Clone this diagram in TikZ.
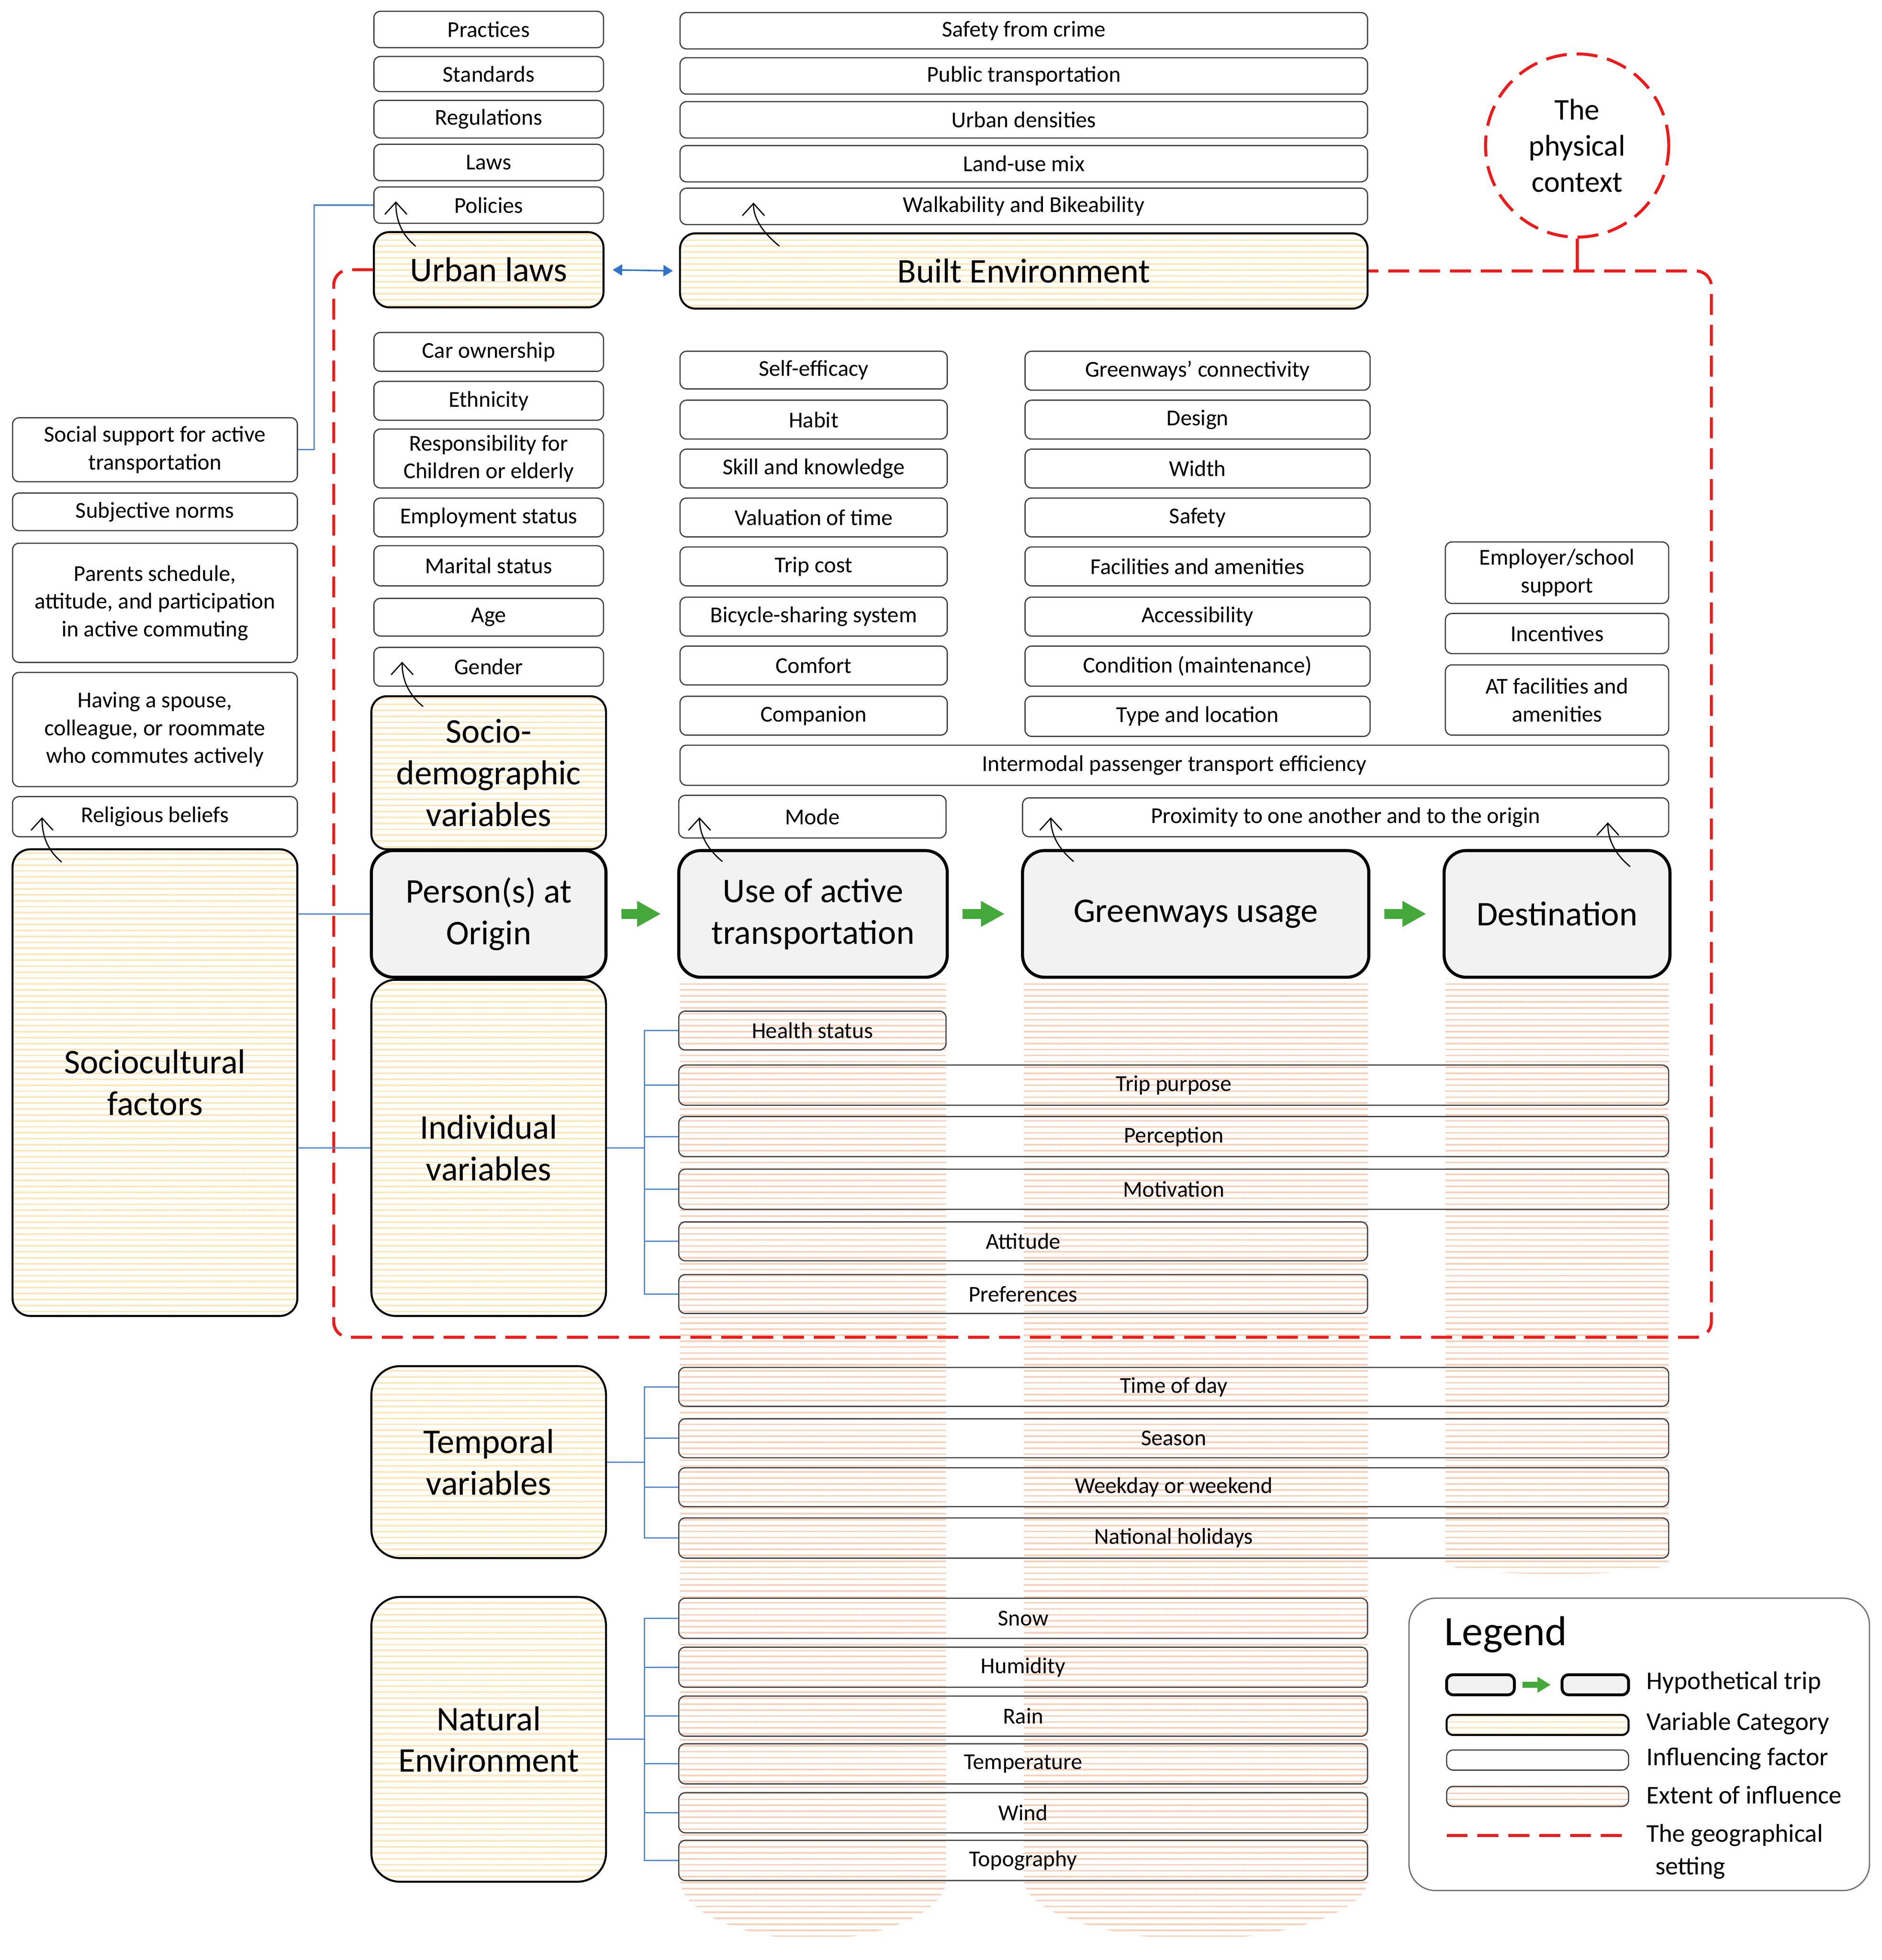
\documentclass[tikz,border=0pt]{standalone}
\usepackage{fontspec}
\setmainfont{Carlito}
\usetikzlibrary{arrows.meta,calc,patterns.meta}
\definecolor{tripgray}{HTML}{F2F2F2}
\definecolor{factorgray}{HTML}{404040}
\definecolor{catyellow}{HTML}{FDE7B8}
\definecolor{extorange}{HTML}{F9CFB9}
\definecolor{framered}{HTML}{EE1A1A}
\definecolor{linkblue}{HTML}{5088D2}
\definecolor{arrowblue}{HTML}{2F74C8}
\definecolor{tripgreen}{HTML}{44A83A}
\newcommand\smallfs{\fontsize{10.3}{12.6}\selectfont}
\newcommand\bigfs{\fontsize{15.7}{18.9}\selectfont}
\newcommand\ctxfs{\fontsize{13.6}{16.4}\selectfont}
\newcommand\legfs{\fontsize{11.6}{14.8}\selectfont}
\newcommand\legtitlefs{\fontsize{19}{22}\selectfont}
% node (name) with style, spanning corners (x1,y1)-(x2,y2)
\newcommand\boxnode[7]{\node[#2, minimum width={(#5-#3)*0.02cm}, minimum height={(#6-#4)*0.02cm}]
  (#1) at ({(#3+#5)/2},{(#4+#6)/2}) {#7};}
\tikzset{
  factor/.style={draw=factorgray, line width=0.55pt, rounded corners=3pt, inner sep=0pt, align=center, font=\smallfs},
  category/.style={draw=black, line width=0.9pt, rounded corners=7pt, inner sep=0pt, align=center, font=\bigfs,
    preaction={fill=white}, pattern={Lines[angle=0,distance=2.7pt,line width=0.75pt]}, pattern color=catyellow},
  trip/.style={draw=black, line width=1.4pt, fill=tripgray, rounded corners=10pt, inner sep=0pt, align=center, font=\bigfs},
  extent/.style={pattern={Lines[angle=0,distance=2.7pt,line width=0.7pt]}, pattern color=extorange},
  setting/.style={draw=framered, line width=1.35pt, dash pattern=on 9.5pt off 4.5pt},
  branch/.style={draw=linkblue, line width=0.6pt},
  infl/.style={draw=black, line width=0.55pt, -{Straight Barb[length=5.5pt,width=10pt]}},
  triparrow/.style={draw=tripgreen, line width=4.4pt, -{Triangle[length=10.8pt,width=11pt]}, shorten <=6.3pt, shorten >=7.4pt},
  linkarrow/.style={draw=arrowblue, line width=0.7pt, {Triangle[length=4.3pt,width=5.1pt]}-{Triangle[length=4.3pt,width=5.1pt]}, shorten <=3.8pt, shorten >=2.8pt},
  legtext/.style={anchor=west, inner sep=0pt, font=\legfs, align=left}
}
\begin{document}
\begin{tikzpicture}[x=0.02cm,y=-0.02cm]
  \useasboundingbox (0,0) rectangle (1500,1562.4);

  % extent of influence
  \path[extent] (542,780) -- (754,780) -- (754,1498) .. controls (754,1525) and (700,1546) .. (648,1546)
    .. controls (596,1546) and (542,1525) .. (542,1498) -- cycle;
  \path[extent] (816,780) -- (1090,780) -- (1090,1498) .. controls (1090,1525) and (1020,1546) .. (953,1546)
    .. controls (886,1546) and (816,1525) .. (816,1498) -- cycle;
  \path[extent] (1152,780) -- (1330,780) -- (1330,1245) .. controls (1330,1258) and (1152,1258) .. (1152,1245) -- cycle;

  % urban laws
  \boxnode{practices}{factor}{298}{9}{481}{38}{Practices}
  \boxnode{standards}{factor}{298}{45}{481}{73}{Standards}
  \boxnode{regulations}{factor}{298}{80}{481}{110}{Regulations}
  \boxnode{laws}{factor}{298}{115}{481}{144}{Laws}
  \boxnode{policies}{factor}{298}{149}{481}{178}{Policies}
  \boxnode{urban}{category}{298}{185}{481}{245}{Urban laws}

  % built environment
  \boxnode{crime}{factor}{542}{10}{1090}{39}{Safety from crime}
  \boxnode{transit}{factor}{542}{46}{1090}{75}{Public transportation}
  \boxnode{density}{factor}{542}{81}{1090}{110}{Urban densities}
  \boxnode{landuse}{factor}{542}{116}{1090}{145}{Land-use mix}
  \boxnode{walk}{factor}{542}{150}{1090}{179}{Walkability and Bikeability}
  \boxnode{built}{category}{542}{186}{1090}{246}{Built Environment}

  \node[setting, circle, inner sep=0pt, align=center, font=\ctxfs, minimum size={146*0.02cm}] (ctx) at (1257,116) {The\\physical\\context};

  % sociocultural
  \boxnode{social}{factor}{10}{333}{237}{384}{Social support for active\\transportation}
  \boxnode{norms}{factor}{10}{393}{237}{423}{Subjective norms}
  \boxnode{parents}{factor}{10}{433}{237}{528}{Parents schedule,\\attitude, and participation\\in active commuting}
  \boxnode{spouse}{factor}{10}{536}{237}{627}{Having a spouse,\\colleague, or roommate\\who commutes actively}
  \boxnode{religion}{factor}{10}{635}{237}{667}{Religious beliefs}
  \boxnode{socio}{category, rounded corners=8pt}{10}{677}{237}{1049}{Sociocultural\\factors}

  % socio-demographic
  \boxnode{car}{factor}{298}{265}{481}{296}{Car ownership}
  \boxnode{ethnic}{factor}{298}{304}{481}{335}{Ethnicity}
  \boxnode{care}{factor}{298}{342}{481}{389}{Responsibility for\\Children or elderly}
  \boxnode{employ}{factor}{298}{397}{481}{428}{Employment status}
  \boxnode{marital}{factor}{298}{435}{481}{467}{Marital status}
  \boxnode{age}{factor}{298}{477}{481}{507}{Age}
  \boxnode{gender}{factor}{298}{516}{481}{547}{Gender}
  \boxnode{demo}{category}{296}{555}{483}{677}{Socio-\\demographic\\variables}

  % use of active transportation
  \boxnode{efficacy}{factor}{542}{280}{755}{310}{Self-efficacy}
  \boxnode{habit}{factor}{542}{319}{755}{350}{Habit}
  \boxnode{skill}{factor}{542}{358}{755}{389}{Skill and knowledge}
  \boxnode{valtime}{factor}{542}{397}{755}{428}{Valuation of time}
  \boxnode{cost}{factor}{542}{436}{755}{467}{Trip cost}
  \boxnode{bikeshare}{factor}{542}{476}{755}{507}{Bicycle-sharing system}
  \boxnode{comfort}{factor}{542}{515}{755}{546}{Comfort}
  \boxnode{companion}{factor}{542}{555}{755}{586}{Companion}

  % greenways
  \boxnode{connect}{factor}{817}{280}{1092}{311}{Greenways’ connectivity}
  \boxnode{design}{factor}{817}{319}{1092}{350}{Design}
  \boxnode{width}{factor}{817}{358}{1092}{389}{Width}
  \boxnode{gsafety}{factor}{817}{397}{1092}{428}{Safety}
  \boxnode{facil}{factor}{817}{436}{1092}{467}{Facilities and amenities}
  \boxnode{access}{factor}{817}{476}{1092}{507}{Accessibility}
  \boxnode{condition}{factor}{817}{515}{1092}{547}{Condition (maintenance)}
  \boxnode{typeloc}{factor}{817}{555}{1092}{587}{Type and location}

  % destination
  \boxnode{employer}{factor}{1152}{432}{1330}{481}{Employer/school\\support}
  \boxnode{incent}{factor}{1152}{489}{1330}{521}{Incentives}
  \boxnode{atfac}{factor}{1152}{530}{1330}{586}{AT facilities and\\amenities}

  \boxnode{intermodal}{factor}{542}{594}{1330}{626}{Intermodal passenger transport efficiency}
  \boxnode{mode}{factor}{541}{634}{754}{668}{Mode}
  \boxnode{proximity}{factor}{815}{636}{1330}{667}{Proximity to one another and to the origin}

  % the trip
  \boxnode{origin}{trip}{296}{678}{483}{779}{Person(s) at\\Origin}
  \boxnode{useat}{trip}{541}{678}{755}{779}{Use of active\\transportation}
  \boxnode{green}{trip}{815}{678}{1091}{779}{Greenways usage}
  \boxnode{dest}{trip}{1151}{678}{1331}{779}{Destination}

  % individual
  \boxnode{indiv}{category, rounded corners=11pt}{296}{781}{483}{1049}{Individual\\variables}
  \boxnode{health}{factor}{541}{806}{754}{837}{Health status}
  \boxnode{purpose}{factor}{541}{849}{1330}{881}{Trip purpose}
  \boxnode{percept}{factor}{541}{890}{1330}{922}{Perception}
  \boxnode{motiv}{factor}{541}{932}{1330}{964}{Motivation}
  \boxnode{attit}{factor}{541}{974}{1090}{1005}{Attitude}
  \boxnode{prefer}{factor}{541}{1016}{1090}{1047}{Preferences}

  % temporal
  \boxnode{temporal}{category, rounded corners=13pt}{296}{1089}{483}{1242}{Temporal\\variables}
  \boxnode{tod}{factor}{541}{1090}{1330}{1121}{Time of day}
  \boxnode{season}{factor}{541}{1131}{1330}{1162}{Season}
  \boxnode{weekday}{factor}{541}{1170}{1330}{1201}{Weekday or weekend}
  \boxnode{holiday}{factor}{541}{1210}{1330}{1242}{National holidays}

  % natural environment
  \boxnode{natural}{category, rounded corners=13pt}{296}{1273}{483}{1500}{Natural\\Environment}
  \boxnode{snow}{factor}{541}{1274}{1090}{1306}{Snow}
  \boxnode{humid}{factor}{541}{1313}{1090}{1345}{Humidity}
  \boxnode{rain}{factor}{541}{1352}{1090}{1384}{Rain}
  \boxnode{temp}{factor}{541}{1390}{1090}{1422}{Temperature}
  \boxnode{wind}{factor}{541}{1429}{1090}{1461}{Wind}
  \boxnode{topo}{factor}{541}{1467}{1090}{1499}{Topography}

  % geographical setting
  \draw[setting, rounded corners=7pt] (urban.west) -- (266,215) -- (266,1066) -- (1364,1066) -- (1364,216) -- (built.east);
  \draw[setting, solid] (ctx.south) -- (ctx.south |- built.east);

  \begin{scope}[branch]
    \draw (social.east) -- ++(13,0) |- (policies.west);
    \draw (socio.east |- origin.west) -- (origin.west);
    \draw (socio.east |- indiv.west) -- (indiv.west);
    \coordinate (indivfork) at ($(indiv.east)+(30,0)$);
    \coordinate (tempfork) at ($(temporal.east)+(30,0)$);
    \coordinate (natfork) at ($(natural.east)+(30,0)$);
    \foreach \fac in {health,purpose,percept,motiv,attit,prefer}
      \draw (indiv.east) -- (indivfork) |- (\fac.west);
    \foreach \fac in {tod,season,weekday,holiday}
      \draw (temporal.east) -- (tempfork) |- (\fac.west);
    \foreach \fac in {snow,humid,rain,temp,wind,topo}
      \draw (natural.east) -- (natfork) |- (\fac.west);
  \end{scope}

  \draw[linkarrow] (urban.east) -- (built.west);
  \draw[triparrow] (origin.east) -- (useat.west);
  \draw[triparrow] (useat.east) -- (green.west);
  \draw[triparrow] (green.east) -- (dest.west);

  \begin{scope}[infl]
    \draw ($(urban.north west)+(34,12)$) .. controls +(-12,-10) and +(0,14) .. ($(policies.south west)+(18,-18)$);
    \draw ($(built.north west)+(80,11)$) .. controls +(-12,-10) and +(0,14) .. ($(walk.south west)+(59,-18)$);
    \draw ($(demo.north west)+(42,9)$) .. controls +(-12,-10) and +(0,14) .. ($(gender.south west)+(23,-20)$);
    \draw ($(socio.north west)+(40,11)$) .. controls +(-12,-10) and +(0,14) .. ($(religion.south west)+(24,-16)$);
    \draw ($(useat.north west)+(36,10)$) .. controls +(-12,-10) and +(0,14) .. ($(mode.south west)+(17,-17)$);
    \draw ($(green.north west)+(42,10)$) .. controls +(-12,-10) and +(0,14) .. ($(proximity.south west)+(23,-16)$);
    \draw ($(dest.north east)+(-33,14)$) .. controls +(-12,-10) and +(0,14) .. ($(proximity.south east)+(-49,-12)$);
  \end{scope}

  % legend
  \boxnode{legend}{draw=black!55, line width=0.6pt, rounded corners=12pt, inner sep=0pt}{1123}{1274}{1490}{1507}{}
  \node[anchor=west, inner sep=0pt, font=\legtitlefs] (legtitle) at (1151,1303) {Legend};
  \boxnode{legtripa}{trip, line width=1.3pt, rounded corners=3pt}{1153}{1335}{1207}{1351}{}
  \boxnode{legtripb}{trip, line width=1.3pt, rounded corners=3pt}{1245}{1335}{1298}{1351}{}
  \draw[triparrow, line width=2.8pt, -{Triangle[length=6pt,width=6.8pt]}, shorten <=3pt, shorten >=4.5pt] (legtripa.east) -- (legtripb.west);
  \boxnode{legcat}{category, rounded corners=3pt}{1153}{1367}{1298}{1383}{}
  \boxnode{legfac}{factor}{1153}{1395}{1298}{1411}{}
  \boxnode{legext}{factor, extent}{1153}{1424}{1298}{1440}{}
  \coordinate (legdasha) at (1153,1463);
  \coordinate (legdashb) at (1296,1463);
  \draw[setting] (legdasha) -- (legdashb);
  \node[legtext] (legtrip) at (1312,1341) {Hypothetical trip};
  \node[legtext] (legcattext) at (1312,1374) {Variable Category};
  \node[legtext] (legfactext) at (1312,1402) {Influencing factor};
  \node[legtext] (legexttext) at (1312,1431) {Extent of influence};
  \node[legtext] (legsettext) at (1312,1476) {The geographical\\\hspace*{4pt}setting};
\end{tikzpicture}
\end{document}
